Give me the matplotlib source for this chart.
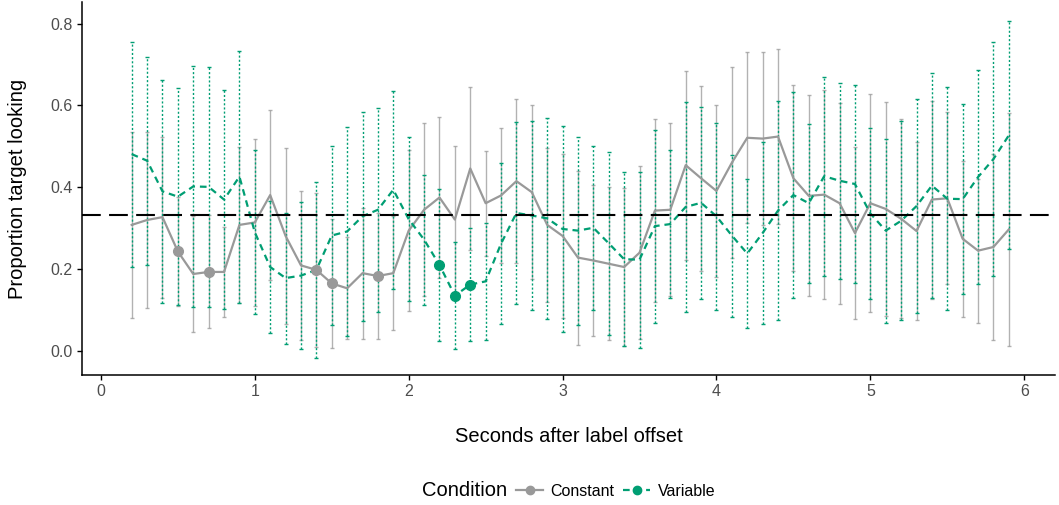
import numpy as np
import matplotlib
matplotlib.use("Agg")
from matplotlib import pyplot as plt
from matplotlib.lines import Line2D

plt.rcParams['font.family'] = ['Liberation Sans', 'DejaVu Sans']

# time bins (seconds after label offset)
seconds = np.round(np.arange(2, 60) / 10, 1)

constant_mean = [0.308, 0.320, 0.327, 0.243, 0.188, 0.193, 0.193, 0.308, 0.314, 0.381,
                 0.281, 0.209, 0.198, 0.165, 0.153, 0.190, 0.183, 0.190, 0.294, 0.345,
                 0.375, 0.321, 0.446, 0.361, 0.380, 0.415, 0.388, 0.308, 0.281, 0.228,
                 0.221, 0.213, 0.205, 0.240, 0.343, 0.345, 0.454, 0.422, 0.391, 0.460,
                 0.521, 0.519, 0.524, 0.422, 0.379, 0.382, 0.361, 0.288, 0.361, 0.347,
                 0.323, 0.293, 0.370, 0.373, 0.274, 0.245, 0.254, 0.297]
constant_se = [0.228, 0.215, 0.197, 0.134, 0.141, 0.138, 0.110, 0.190, 0.205, 0.208,
               0.215, 0.183, 0.188, 0.158, 0.125, 0.160, 0.155, 0.139, 0.197, 0.212,
               0.196, 0.181, 0.200, 0.128, 0.165, 0.201, 0.212, 0.188, 0.201, 0.213,
               0.184, 0.187, 0.192, 0.211, 0.223, 0.212, 0.231, 0.226, 0.211, 0.234,
               0.209, 0.212, 0.215, 0.227, 0.246, 0.255, 0.246, 0.210, 0.266, 0.261,
               0.243, 0.218, 0.242, 0.210, 0.190, 0.176, 0.228, 0.284]

variable_mean = [0.481, 0.465, 0.390, 0.377, 0.402, 0.401, 0.370, 0.426, 0.290, 0.205,
                 0.178, 0.184, 0.198, 0.282, 0.292, 0.329, 0.345, 0.394, 0.322, 0.272,
                 0.210, 0.135, 0.162, 0.170, 0.262, 0.337, 0.331, 0.324, 0.298, 0.294,
                 0.301, 0.263, 0.224, 0.223, 0.305, 0.310, 0.352, 0.362, 0.329, 0.282,
                 0.238, 0.288, 0.343, 0.381, 0.361, 0.427, 0.416, 0.408, 0.336, 0.294,
                 0.318, 0.354, 0.404, 0.372, 0.371, 0.425, 0.469, 0.527]
variable_se = [0.275, 0.254, 0.272, 0.266, 0.294, 0.293, 0.268, 0.308, 0.200, 0.161,
               0.160, 0.180, 0.216, 0.218, 0.255, 0.256, 0.250, 0.242, 0.200, 0.159,
               0.186, 0.131, 0.138, 0.143, 0.197, 0.223, 0.230, 0.246, 0.251, 0.230,
               0.200, 0.224, 0.213, 0.215, 0.236, 0.180, 0.256, 0.235, 0.229, 0.198,
               0.183, 0.223, 0.268, 0.252, 0.194, 0.243, 0.240, 0.243, 0.210, 0.225,
               0.243, 0.261, 0.275, 0.272, 0.232, 0.262, 0.287, 0.279]

# bins where the condition differs from chance
constant_sig = [0.5, 0.7, 1.4, 1.5, 1.8]
variable_sig = [2.2, 2.3, 2.4]

chance = 1 / 3
x_ticks = [0, 1, 2, 3, 4, 5, 6]
y_ticks = [0.0, 0.2, 0.4, 0.6, 0.8]

grey = "#999999"
green = "#009E73"
tick_col = "#4D4D4D"

fig = plt.figure(figsize=(10.59, 5.05), dpi=100)
ax = fig.add_axes([82 / 1059, 130 / 505, 973 / 1059, 373 / 505])

# error bars
eb = ax.errorbar(seconds, constant_mean, yerr=constant_se, fmt="none",
                 ecolor=grey, elinewidth=1.0, capsize=1.2, capthick=1.0, alpha=0.75, zorder=2)
eb = ax.errorbar(seconds, variable_mean, yerr=variable_se, fmt="none",
                 ecolor=green, elinewidth=1.0, capsize=1.2, capthick=1.0, zorder=2)
eb[2][0].set_linestyle((0, (1.5, 1.5)))

# mean lines
ax.plot(seconds, constant_mean, color=grey, lw=1.6, zorder=3)
ax.plot(seconds, variable_mean, color=green, lw=1.6, dashes=(3, 2.2), zorder=3)

# significant points
idx = [list(seconds).index(s) for s in constant_sig]
ax.plot([seconds[i] for i in idx], [constant_mean[i] for i in idx], "o",
        color=grey, ms=7, zorder=4)
idx = [list(seconds).index(s) for s in variable_sig]
ax.plot([seconds[i] for i in idx], [variable_mean[i] for i in idx], "o",
        color=green, ms=7, zorder=4)

# chance line
ax.axhline(chance, color="black", lw=1.5, dashes=(9, 4), zorder=3)

ax.set_xlim(-0.123, 6.2)
ax.set_ylim(-0.059, 0.853)
ax.set_xticks(x_ticks)
ax.set_xticklabels([str(t) for t in x_ticks])
ax.set_yticks(y_ticks)
ax.set_yticklabels([f"{t:.1f}" for t in y_ticks])
ax.tick_params(axis="both", colors="black", labelcolor=tick_col, labelsize=11.5,
               length=3.5, width=1.0, pad=3)

for side in ["top", "right"]:
    ax.spines[side].set_visible(False)
for side in ["left", "bottom"]:
    ax.spines[side].set_linewidth(1.1)

ax.set_xlabel("Seconds after label offset", fontsize=14.5)
ax.xaxis.set_label_coords(0.5, (373 - 437 + 2) / 373)
ax.xaxis.label.set_va("center")
ax.set_ylabel("Proportion target looking", fontsize=14.5)
ax.yaxis.set_label_coords((18 - 82) / 973, 0.5)
ax.yaxis.label.set_va("center")

# legend along the bottom
fig.text(422 / 1059, 14 / 505, "Condition", fontsize=14.5, ha="left", va="center")
handles = [
    Line2D([], [], color=grey, lw=1.6, marker="o", ms=6),
    Line2D([], [], color=green, lw=1.6, marker="o", ms=6, dashes=(3, 2.2)),
]
fig.legend(handles, ["Constant", "Variable"], loc="center left",
           bbox_to_anchor=(516 / 1059, 14 / 505), ncol=2, frameon=False,
           fontsize=11.5, handlelength=1.7, handletextpad=0.45, columnspacing=0.55,
           borderpad=0, borderaxespad=0)

fig.savefig("out.png", dpi=100)
